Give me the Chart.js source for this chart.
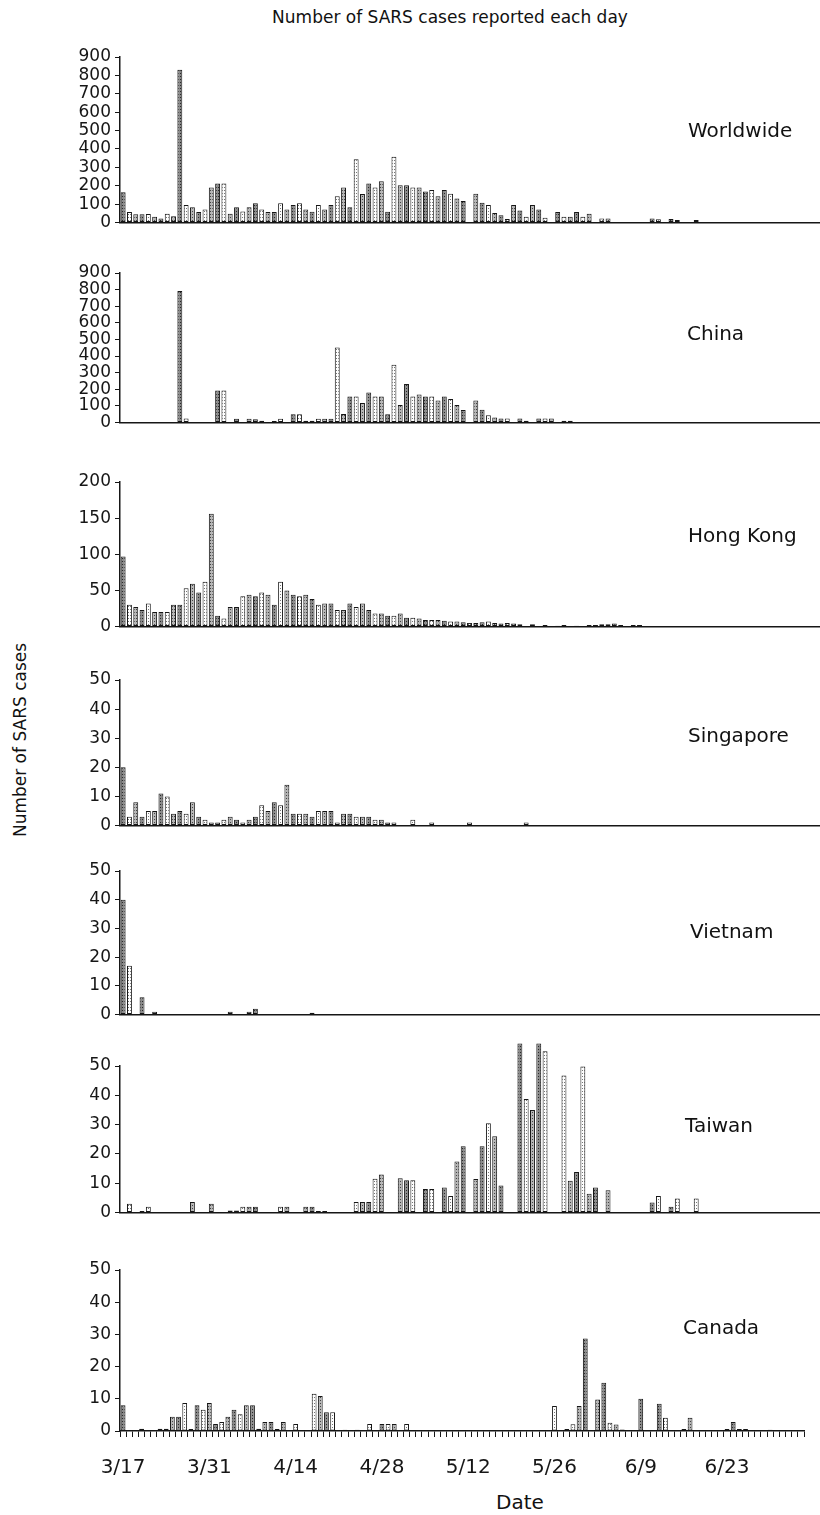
<!DOCTYPE html>
<html>
<head>
<meta charset="utf-8">
<title>SARS cases per day</title>
<script src="https://cdn.jsdelivr.net/npm/chart.js"></script>
<style>
  html, body { margin: 0; padding: 0; background: #fff; }
  #page {
    position: relative;
    width: 820px;
    height: 1515px;
    overflow: hidden;
    font-family: "DejaVu Sans", sans-serif;
    color: #111;
  }
  #page canvas { position: absolute; left: 0; }
  .txt { position: absolute; white-space: nowrap; line-height: 24px; }
  #title { left: 0; width: 900px; top: 5px; text-align: center; font-size: 17px; }
  #ytitle { left: 20px; top: 740px; font-size: 17px; transform: translate(-50%, -50%) rotate(-90deg); }
  #xtitle { left: 520px; top: 1490px; font-size: 20px; transform: translateX(-50%); }
  .name { font-size: 20px; }
</style>
</head>
<body>
<div id="page">
  <div id="title" class="txt">Number of SARS cases reported each day</div>
  <div id="ytitle" class="txt">Number of SARS cases</div>
  <div id="xtitle" class="txt">Date</div>
</div>
<script>
const NUM_DAYS = 111; // 3/17 .. 7/5
const tickLabels = ["3/17", "3/31", "4/14", "4/28", "5/12", "5/26", "6/9", "6/23"];

// daily counts, one row per two weeks
const worldwide = [
  165, 57, 45, 45, 46, 31, 22, 48, 34, 830, 95, 83, 57, 71,
  191, 212, 212, 48, 83, 60, 83, 105, 71, 57, 57, 105, 71, 95,
  105, 71, 59, 95, 71, 95, 143, 191, 83, 344, 155, 212, 191, 225,
  59, 358, 203, 203, 191, 191, 169, 177, 143, 177, 157, 131, 117, 0,
  157, 108, 95, 52, 40, 19, 95, 65, 31, 95, 71, 26, 0, 57,
  31, 31, 57, 31, 48, 0, 22, 22, 0, 0, 0, 0, 0, 0,
  22, 17, 0, 19, 14, 0, 0, 14, 0, 0, 0, 0, 0, 0,
  3, 3, 3, 3, 3, 3, 3, 3, 3, 3, 3, 0, 0
];
const china = [
  0, 0, 0, 0, 0, 0, 0, 0, 0, 792, 24, 0, 0, 0,
  0, 192, 192, 0, 22, 0, 22, 20, 11, 0, 9, 22, 0, 49,
  49, 11, 11, 22, 22, 22, 452, 51, 156, 156, 117, 181, 156, 156,
  49, 348, 105, 232, 156, 169, 156, 156, 132, 156, 141, 105, 75, 0,
  132, 77, 43, 30, 24, 24, 0, 24, 11, 0, 24, 24, 24, 0,
  11, 11, 0, 0, 0, 0, 0, 0, 0, 0, 0, 0, 0, 0,
  0, 0, 0, 0, 0, 0, 0, 0, 0, 0, 0, 0, 0, 0,
  0, 0, 0, 0, 0, 0, 0, 0, 0, 0, 0, 0, 0
];
const hongKong = [
  97, 30, 27, 23, 32, 20, 20, 20, 30, 30, 53, 59, 47, 62,
  156, 15, 11, 27, 27, 42, 44, 42, 47, 44, 30, 62, 50, 44,
  42, 44, 38, 30, 32, 32, 23, 23, 32, 27, 32, 23, 18, 18,
  15, 15, 18, 12, 12, 11, 9, 9, 9, 8, 7, 7, 6, 5,
  5, 6, 7, 5, 4, 5, 4, 3, 0, 3, 0, 2, 0, 1,
  2, 0, 1, 0, 2, 2, 3, 3, 4, 2, 0, 2, 2, 0,
  0, 0, 0, 0, 0, 0, 0, 0, 0, 0, 0, 0, 0, 0,
  0, 0, 0, 0, 0, 0, 0, 0, 0, 0, 0, 0, 0
];
const singapore = [
  20, 3, 8, 3, 5, 5, 11, 10, 4, 5, 4, 8, 3, 2,
  1, 1, 2, 3, 2, 1, 2, 3, 7, 5, 8, 7, 14, 4,
  4, 4, 3, 5, 5, 5, 1, 4, 4, 3, 3, 3, 2, 2,
  1, 1, 0, 0, 2, 0, 0, 1, 0, 0, 0, 0, 0, 1,
  0, 0, 0, 0, 0, 0, 0, 0, 1, 0, 0, 0, 0, 0,
  0, 0, 0, 0, 0, 0, 0, 0, 0, 0, 0, 0, 0, 0,
  0, 0, 0, 0, 0, 0, 0, 0, 0, 0, 0, 0, 0, 0,
  0, 0, 0, 0, 0, 0, 0, 0, 0, 0, 0, 0, 0
];
const vietnam = [
  40, 17, 0, 6, 0, 1, 0, 0, 0, 0, 0, 0, 0, 0,
  0, 0, 0, 1, 0, 0, 1, 2, 0, 0, 0, 0, 0, 0,
  0, 0, 0.6, 0, 0, 0, 0, 0, 0, 0, 0, 0, 0, 0,
  0, 0, 0, 0, 0, 0, 0, 0, 0, 0, 0, 0, 0, 0,
  0, 0, 0, 0, 0, 0, 0, 0, 0, 0, 0, 0, 0, 0,
  0, 0, 0, 0, 0, 0, 0, 0, 0, 0, 0, 0, 0, 0,
  0, 0, 0, 0, 0, 0, 0, 0, 0, 0, 0, 0, 0, 0,
  0, 0, 0, 0, 0, 0, 0, 0, 0, 0, 0, 0, 0
];
const taiwan = [
  0, 3, 0, 0.5, 2, 0, 0, 0, 0, 0, 0, 3.6, 0, 0,
  3, 0, 0, 0.7, 0.7, 2, 2, 2, 0, 0, 0, 2, 2, 0,
  0, 2, 2, 0.5, 0.5, 0, 0, 0, 0, 3.6, 3.6, 3.6, 11.5, 13,
  0, 0, 11.7, 11, 11, 0, 8, 8, 0, 8.5, 5.6, 17.4, 22.6, 0,
  11.4, 22.6, 30.5, 26, 9.2, 0, 0, 57.7, 38.7, 35, 57.7, 55, 0, 0,
  46.8, 10.8, 13.8, 49.8, 6.4, 8.5, 0, 7.6, 0, 0, 0, 0, 0, 0,
  3.4, 5.6, 0, 2, 4.8, 0, 0, 4.8, 0, 0, 0, 0, 0, 0,
  0, 0, 0, 0, 0, 0, 0, 0, 0, 0, 0, 0, 0
];
const canada = [
  8, 0, 0, 0.7, 0, 0, 0.7, 0.7, 4.4, 4.4, 8.7, 0.6, 8, 6.6,
  8.7, 2.2, 2.8, 4.4, 6.6, 5.2, 8, 8, 0.7, 2.8, 2.8, 0.6, 2.8, 0,
  2.2, 0, 0, 11.6, 10.9, 5.8, 5.8, 0, 0.4, 0, 0.4, 0, 2.2, 0,
  2.2, 2.2, 2.2, 0, 2.2, 0, 0, 0, 0, 0, 0, 0, 0, 0,
  0, 0, 0, 0, 0, 0, 0, 0, 0, 0, 0, 0, 0, 0,
  7.8, 0, 0.6, 2.1, 7.8, 28.7, 0, 9.8, 15, 2.6, 2, 0.5, 0, 0,
  10, 0, 0, 8.5, 4.1, 0, 0, 0.6, 4.1, 0, 0, 0, 0, 0,
  0.6, 2.8, 0.6, 0.6, 0, 0, 0, 0.4, 0, 0, 0, 0, 0
];

// day labels 3/17, 3/18, ...
const dayLabels = [];
{
  const monthLen = { 3: 31, 4: 30, 5: 31, 6: 30, 7: 31 };
  let m = 3, d = 17;
  for (let i = 0; i < NUM_DAYS; i++) {
    dayLabels.push(m + "/" + d);
    if (++d > monthLen[m]) { d = 1; m++; }
  }
}

// panel placement: top = y of the highest tick, base = y of zero line
const panels = [
  { name: "Worldwide", data: worldwide, max: 900, step: 100, top: 57, base: 233, nameX: 688, nameY: 130 },
  { name: "China", data: china, max: 900, step: 100, top: 273, base: 433, nameX: 687, nameY: 333 },
  { name: "Hong Kong", data: hongKong, max: 200, step: 50, top: 482, base: 637, nameX: 688, nameY: 535 },
  { name: "Singapore", data: singapore, max: 50, step: 10, top: 680, base: 836, nameX: 688, nameY: 735 },
  { name: "Vietnam", data: vietnam, max: 50, step: 10, top: 871, base: 1025, nameX: 690, nameY: 931 },
  { name: "Taiwan", data: taiwan, max: 50, step: 10, top: 1066, base: 1223, nameX: 685, nameY: 1125, padTop: 30 },
  { name: "Canada", data: canada, max: 50, step: 10, top: 1270, base: 1431, nameX: 683, nameY: 1327 }
];

const INK = "#161616";
const tickFont = { family: "DejaVu Sans", size: 17, lineHeight: 1 };
const dateFont = { family: "DejaVu Sans", size: 20 };

// stippled fills for the bars
function stipple(bg, dot) {
  const c = document.createElement("canvas");
  c.width = 2; c.height = 3;
  const g = c.getContext("2d");
  g.fillStyle = bg; g.fillRect(0, 0, 2, 3);
  g.fillStyle = dot; g.fillRect(0, 1, 1, 1);
  return g.createPattern(c, "repeat");
}
const fills = [stipple("#8a8a8a", "#2a2a2a"), stipple("#ffffff", "#777777"), stipple("#b5b5b5", "#444444")];

const page = document.getElementById("page");

panels.forEach((p, idx) => {
  const isLast = idx === panels.length - 1;
  const padTop = p.padTop || 15;
  const axisH = isLast ? 49 : 0;

  const canvas = document.createElement("canvas");
  canvas.width = 820;
  canvas.height = (p.base - p.top) + padTop + axisH + 2;
  canvas.style.top = (p.top - padTop) + "px";
  page.appendChild(canvas);

  const label = document.createElement("div");
  label.className = "txt name";
  label.textContent = p.name;
  label.style.left = p.nameX + "px";
  label.style.top = (p.nameY - 12) + "px";
  page.appendChild(label);

  new Chart(canvas, {
    type: "bar",
    data: {
      labels: dayLabels,
      datasets: [{
        data: p.data,
        backgroundColor: (ctx) => fills[ctx.dataIndex % 3],
        borderColor: INK,
        borderWidth: 1,
        borderSkipped: false,
        barPercentage: 0.78,
        categoryPercentage: 1.0,
        clip: false
      }]
    },
    options: {
      responsive: false,
      animation: false,
      events: [],
      layout: { padding: { top: padTop, right: 1, bottom: 2, left: 0 } },
      plugins: { legend: { display: false }, tooltip: { enabled: false } },
      scales: {
        x: {
          offset: true,
          border: { display: true, color: INK, width: 1.5 },
          grid: isLast
            ? { display: true, drawOnChartArea: false, drawTicks: true, tickLength: 6, color: INK, lineWidth: 1 }
            : { display: false, drawTicks: false },
          ticks: isLast
            ? {
                autoSkip: false, maxRotation: 0, minRotation: 0, padding: 19,
                color: INK, font: dateFont,
                callback: (v, i) => (tickLabels.includes(dayLabels[i]) ? dayLabels[i] : "")
              }
            : { display: false },
          afterFit: (scale) => { scale.height = axisH; }
        },
        y: {
          min: 0,
          max: p.max,
          border: { display: true, color: INK, width: 1.5 },
          grid: { display: true, drawOnChartArea: false, drawTicks: true, tickLength: 5, color: INK },
          ticks: { stepSize: p.step, autoSkip: false, color: INK, font: tickFont, padding: 4 },
          afterFit: (scale) => { scale.width = 120; }
        }
      }
    }
  });
});
</script>
</body>
</html>
